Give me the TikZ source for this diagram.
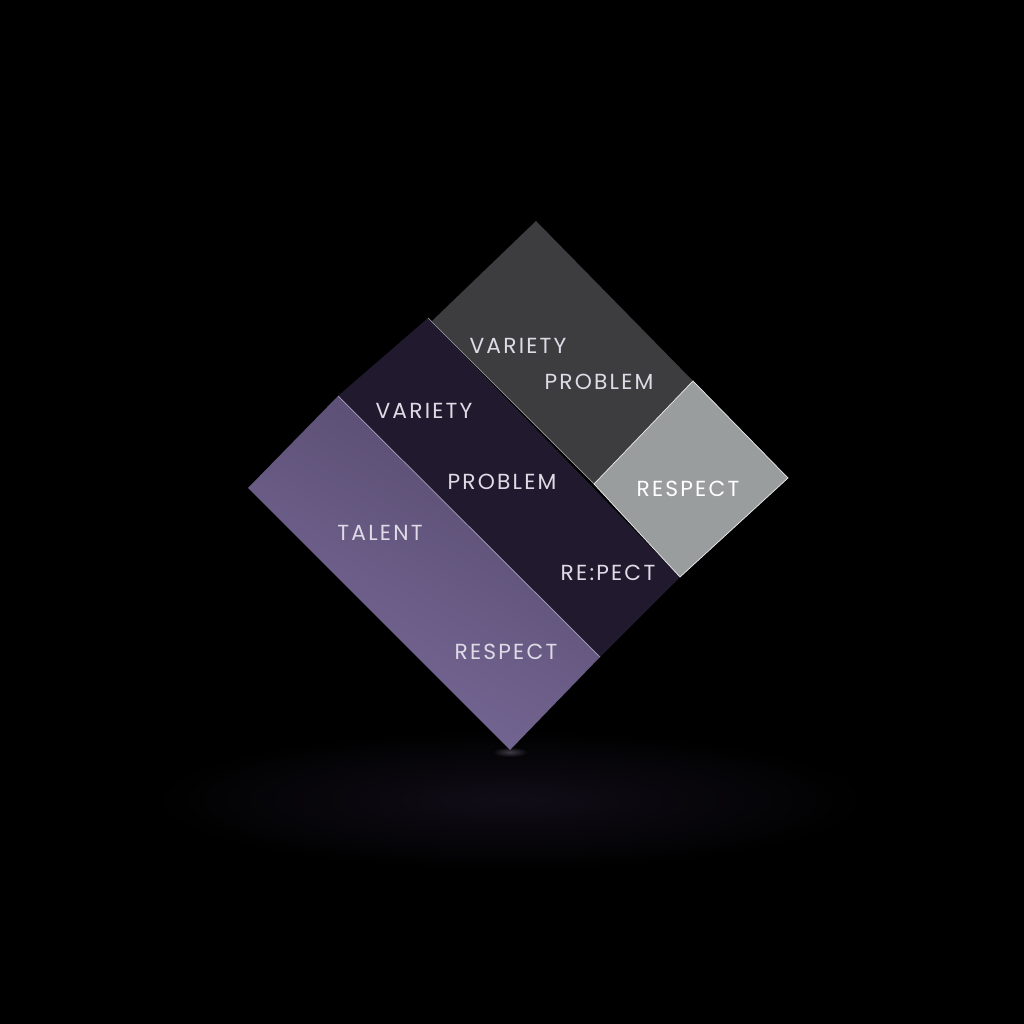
\documentclass[tikz,border=0pt]{standalone}
\usepackage{fontspec}
\setmainfont{Poppins}[LetterSpace=10]
\usepackage{tikz}
\usetikzlibrary{shapes}
\definecolor{lpurA}{HTML}{574A6E}
\definecolor{lpurB}{HTML}{786A98}
\definecolor{dpur}{HTML}{211A2F}
\definecolor{dgray}{HTML}{3D3D3F}
\definecolor{lgray}{HTML}{9A9D9D}
\definecolor{ink}{HTML}{DEDBE6}
\tikzset{lbl/.style={text=ink, font=\fontsize{15.5pt}{17pt}\selectfont, inner sep=0pt}}

\begin{document}
\begin{tikzpicture}[x=0.025cm, y=-0.025cm]
\fill[black] (0,0) rectangle (1024,1024);
\useasboundingbox (0,0) rectangle (1024,1024);
% floor glow
\shade[inner color=dpur!50!black, outer color=black] (510,800) ellipse (360 and 70);
\shade[inner color=lpurB!60, outer color=black, opacity=0.35] (510,752) ellipse (18 and 5);
% bands
\shade[top color=lpurA, bottom color=lpurB, shading angle=-30] (248,488)--(338,396)--(600,657)--(510,750)--cycle;
\fill[dpur] (338,396)--(428,318)--(680,577)--(600,657)--cycle;
\fill[dgray] (432,321)--(536,221)--(693,381)--(594,484)--cycle;
\fill[lgray] (594,484)--(693,381)--(788,478)--(680,577)--cycle;
% edges
\draw[lpurB!60!white, line width=0.5pt] (338,396)--(600,657);
\draw[gray!80, line width=0.5pt] (428,318)--(594,484);
\draw[white!85!gray, line width=0.5pt] (594,484)--(693,381)--(788,478)--(680,577)--cycle;
% texts
\node[lbl] (varG) at (518,346) {VARIETY};
\node[lbl] (probG) at (599,382) {PROBLEM};
\node[lbl, text=white] (respL) at (688,489) {RESPECT};
\node[lbl] (varD) at (424,411) {VARIETY};
\node[lbl] (probD) at (502,482) {PROBLEM};
\node[lbl] (respD) at (608,573) {RE:PECT};
\node[lbl] (tal) at (380,533) {TALENT};
\node[lbl] (respP) at (506,652) {RESPECT};
\end{tikzpicture}
\end{document}
